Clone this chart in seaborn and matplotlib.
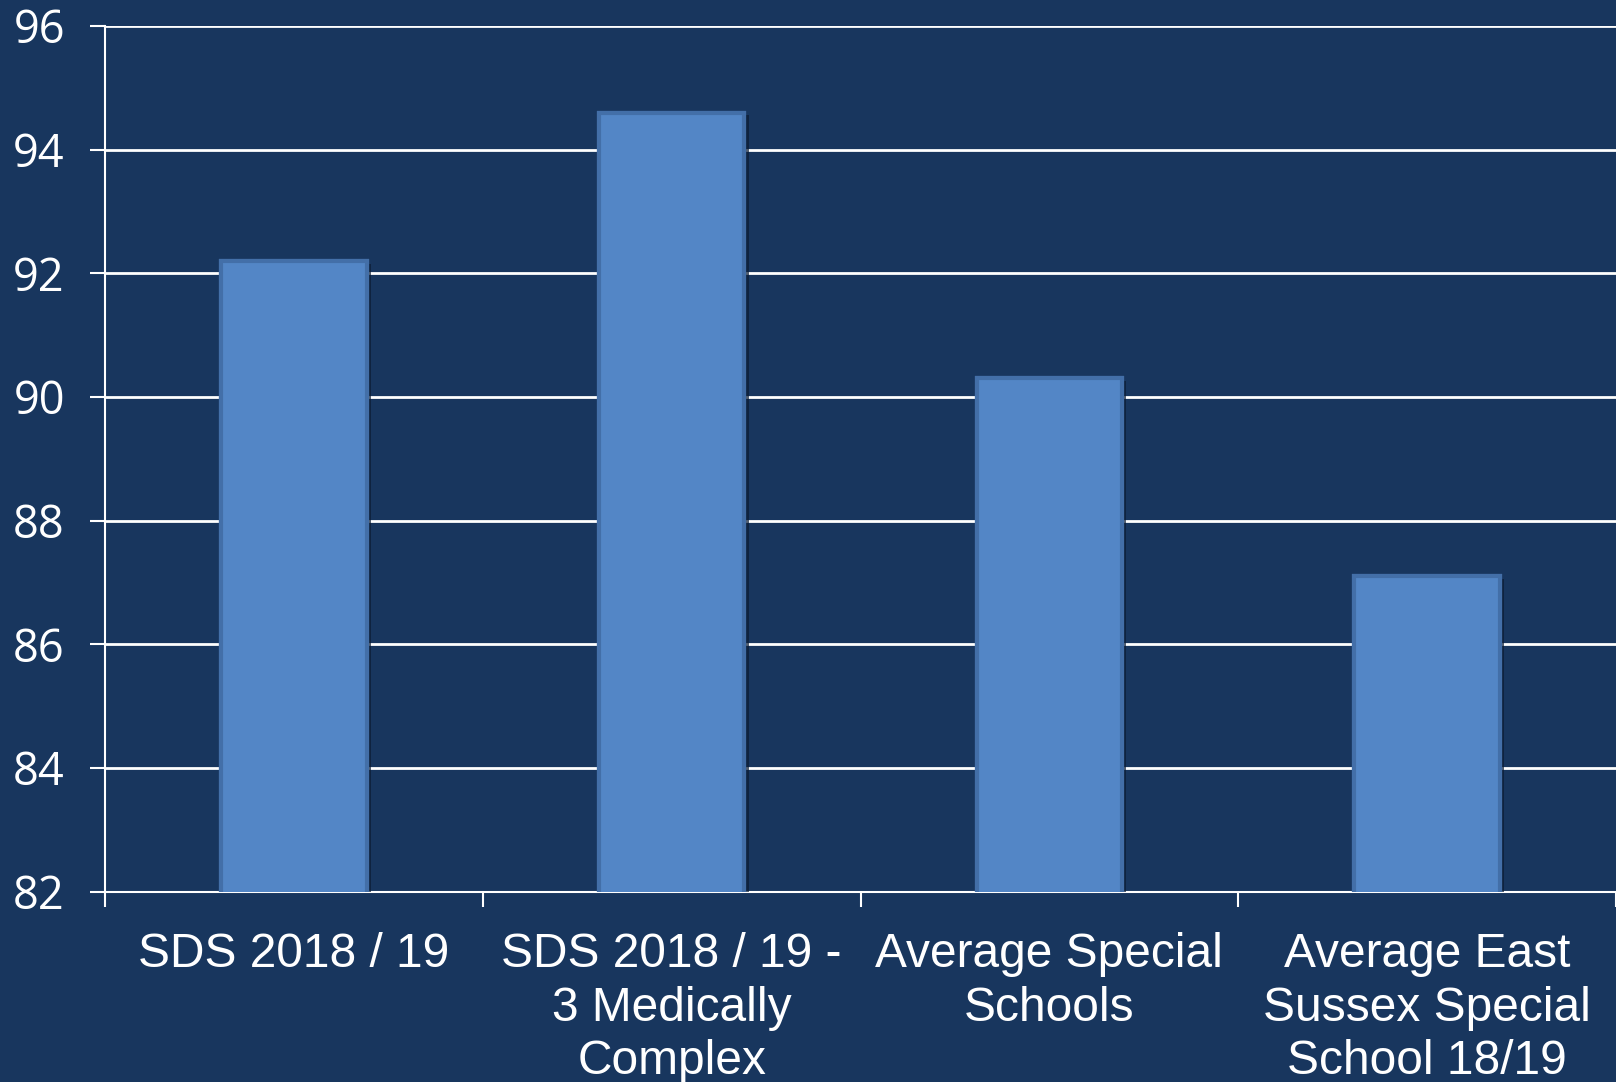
"""
Bar chart of attendance-style percentages on a dark navy slide background.
"""
import matplotlib
matplotlib.use('Agg')
import matplotlib.pyplot as plt
import matplotlib.patheffects as pe
import seaborn as sns
import pandas as pd
import numpy as np

categories = [
    "SDS 2018 / 19",
    "SDS 2018 / 19 -\n3 Medically\nComplex",
    "Average Special\nSchools",
    "Average East\nSussex Special\nSchool 18/19",
]
values = [92.2, 94.6, 90.3, 87.1]
y_ticks = [82, 84, 86, 88, 90, 92, 94, 96]

BG = "#18365e"
BAR = "#5386c6"

sns.set_theme(style="white")
plt.rcParams['font.family'] = ['Liberation Sans', 'DejaVu Sans']

df = pd.DataFrame({"category": categories, "value": values})

fig = plt.figure(figsize=(16.16, 10.82), dpi=100, facecolor=BG)
ax = fig.add_axes([0.065, 0.176, 0.935, 0.800])
ax.set_facecolor(BG)

sns.barplot(data=df, x="category", y="value", color=BAR, saturation=1,
            width=0.385, edgecolor="#436fa8", linewidth=3, ax=ax, zorder=3)
for p in ax.patches:
    p.set_path_effects([pe.withSimplePatchShadow(offset=(3, -2), shadow_rgbFace="#0c1c33", alpha=0.7),
                        pe.Normal()])

ax.set_ylim(82, 96)
ax.set_xlim(-0.5, 3.5)
ax.set_yticks(y_ticks)
ax.set_yticklabels([str(t) for t in y_ticks], fontsize=32.5, color="white",
                   family=['Open Sans', 'DejaVu Sans'])
ax.grid(axis="y", color="white", linewidth=2, zorder=0)
ax.set_axisbelow(True)

# category boundaries as ticks, labels at bar centres
ax.set_xticks(np.arange(-0.5, 4.0, 1.0))
ax.set_xticklabels([])
ax.set_xticks(np.arange(len(categories)), minor=True)
ax.set_xticklabels(categories, minor=True, fontsize=34.5, color="white",
                   linespacing=1.25, ha="center", multialignment="center")
ax.tick_params(axis="x", which="major", direction="out", length=11, width=1.5,
               color="white", bottom=True)
ax.tick_params(axis="x", which="minor", length=0, pad=29)
ax.tick_params(axis="y", direction="out", length=11, width=1.5, color="white",
               left=True, pad=18)

for s in ["top", "right"]:
    ax.spines[s].set_visible(False)
for s in ["left", "bottom"]:
    ax.spines[s].set_color("white")
    ax.spines[s].set_linewidth(1.5)

ax.set_xlabel("")
ax.set_ylabel("")

fig.savefig("out.png", dpi=100, facecolor=BG)
